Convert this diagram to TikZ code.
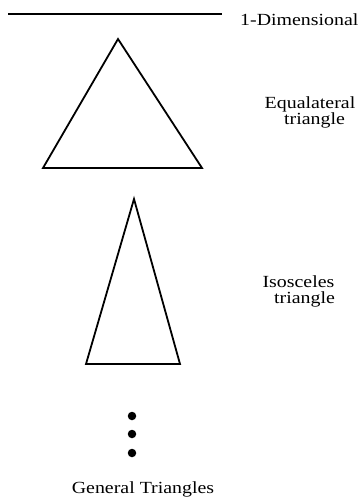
\documentclass[tikz,border=0pt]{standalone}
\usepackage{fontspec}
\setmainfont[FakeStretch=1.17]{Liberation Serif}
\begin{document}
\begin{tikzpicture}[x=1pt,y=-1pt,
  tri/.style={line width=1.8pt, line join=miter},
  lbl/.style={font=\fontsize{17}{16}\selectfont, inner sep=0pt, align=center},
  dot/.style={circle, fill=black, inner sep=0pt, minimum size=8.5pt}]
\useasboundingbox (0,0) rectangle (362,498);
\coordinate (l1) at (8,14);
\coordinate (l2) at (222,14);
\draw[line width=1.4pt] (l1) -- (l2);
\node[lbl, anchor=base west] (dim) at (240,25) {1-Dimensional};
\coordinate (ea) at (118,39);
\coordinate (el) at (43,168);
\coordinate (er) at (202,168);
\draw[tri] (ea) -- (el) -- (er) -- cycle;
\node[lbl, anchor=base] (eq) at (310,124) {Equalateral\\\hspace*{9pt}triangle};
\coordinate (ia) at (134,199);
\coordinate (il) at (86,364);
\coordinate (ir) at (180,364);
\draw[tri] (ia) -- (il) -- (ir) -- cycle;
\node[lbl, anchor=base] (is) at (298.5,303) {Isosceles\\\hspace*{12pt}triangle};
\node[dot] (d1) at (132,416) {};
\node[dot] (d2) at (132,434) {};
\node[dot] (d3) at (132,453) {};
\node[lbl, anchor=base] (gen) at (143,493) {General Triangles};
\end{tikzpicture}
\end{document}
